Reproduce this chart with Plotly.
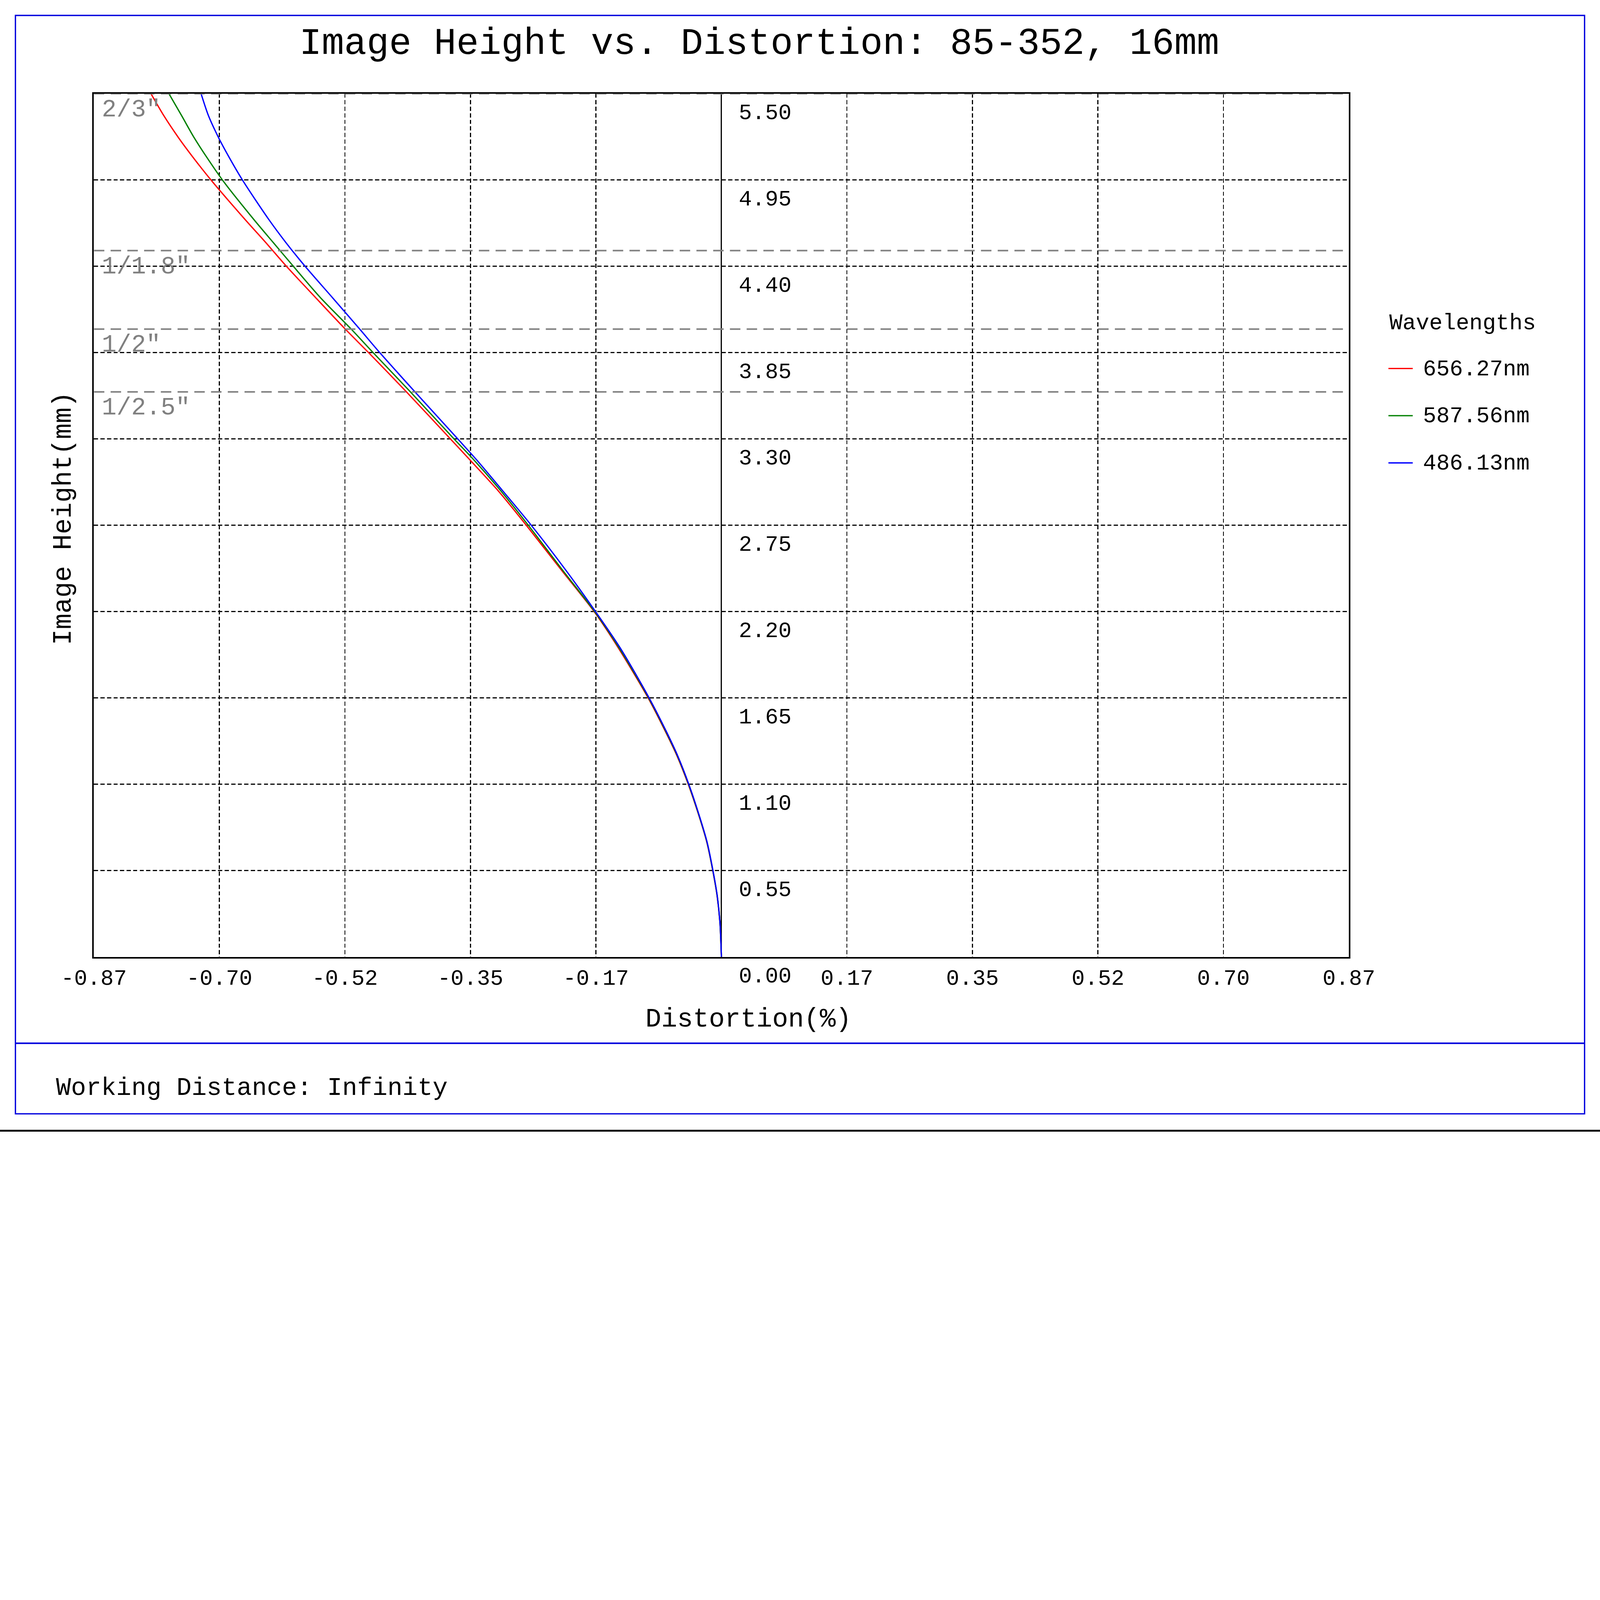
import plotly.graph_objects as go

# image height (mm) shared by the three wavelength curves
heights = [0.00, 0.22, 0.39, 0.55, 0.73, 0.89, 1.10, 1.28, 1.43, 1.65, 1.97, 2.20, 2.46, 2.75,
           2.97, 3.17, 3.30, 3.60, 3.85, 4.00, 4.20, 4.40, 4.55, 4.70, 4.95, 5.10, 5.22, 5.36, 5.50]

# distortion (%)
dist_656 = [0.0, -0.0021, -0.0060, -0.0120, -0.0202, -0.0305, -0.0460, -0.0615, -0.0770, -0.1016,
            -0.1431, -0.1764, -0.2210, -0.2705, -0.3095, -0.3494, -0.3757, -0.4367, -0.4892, -0.5215,
            -0.5625, -0.6031, -0.6315, -0.6608, -0.7077, -0.7335, -0.7528, -0.7731, -0.7909]
dist_588 = [0.0, -0.0021, -0.0059, -0.0119, -0.0200, -0.0303, -0.0456, -0.0610, -0.0764, -0.1009,
            -0.1420, -0.1757, -0.2195, -0.2677, -0.3060, -0.3439, -0.3707, -0.4312, -0.4829, -0.5133,
            -0.5559, -0.5935, -0.6211, -0.6486, -0.6918, -0.7143, -0.7311, -0.7484, -0.7660]
dist_486 = [0.0, -0.0020, -0.0058, -0.0117, -0.0198, -0.0300, -0.0452, -0.0605, -0.0757, -0.1002,
            -0.1405, -0.1745, -0.2151, -0.2636, -0.3033, -0.3400, -0.3655, -0.4249, -0.4737, -0.5015,
            -0.5392, -0.5772, -0.6036, -0.6278, -0.6641, -0.6832, -0.6972, -0.7112, -0.7214]

wavelengths = ["656.27nm", "587.56nm", "486.13nm"]
colors = ["#ff0000", "#008000", "#0000ff"]

xtick_vals = [-0.870, -0.696, -0.522, -0.348, -0.174, 0.0, 0.174, 0.348, 0.522, 0.696, 0.870]
xtick_text = ["-0.87", "-0.70", "-0.52", "-0.35", "-0.17", "", "0.17", "0.35", "0.52", "0.70", "0.87"]

ytick_vals = [0.00, 0.55, 1.10, 1.65, 2.20, 2.75, 3.30, 3.85, 4.40, 4.95, 5.50]
ytick_text = ["0.00", "0.55", "1.10", "1.65", "2.20", "2.75", "3.30", "3.85", "4.40", "4.95", "5.50"]

sensor_names = ['2/3"', '1/1.8"', '1/2"', '1/2.5"']
sensor_heights = [5.5, 4.5, 4.0, 3.6]

FONT = "Liberation Mono"
W, H = 6118, 4327
L, R, T, B = 359, 5158, 358, 3659


def px(x):
    return (x - L) / (R - L)


def py(y):
    return (B - y) / (B - T)


fig = go.Figure()

for name, dist, col in zip(wavelengths, [dist_656, dist_588, dist_486], colors):
    fig.add_trace(go.Scatter(x=dist, y=heights, mode="lines", name=name,
                             line=dict(color=col, width=5, shape="spline", smoothing=0.8),
                             showlegend=False))

axis_common = dict(showgrid=True, gridcolor="black", gridwidth=4, griddash="16px,9px",
                   showline=True, linecolor="black", linewidth=6, mirror=True, ticks="")

fig.update_xaxes(range=[-0.87, 0.87], tickvals=xtick_vals, ticktext=xtick_text,
                 zeroline=True, zerolinecolor="black", zerolinewidth=5,
                 ticklabelstandoff=0, tickfont=dict(family=FONT, size=84, color="black"),
                 **axis_common)
fig.update_yaxes(range=[0, 5.5], tickvals=ytick_vals, showticklabels=False,
                 zeroline=False, **axis_common)

shapes = []
annotations = []

# sensor format lines
for name, h in zip(sensor_names, sensor_heights):
    shapes.append(dict(type="line", xref="x", yref="y", x0=-0.87, x1=0.87, y0=h, y1=h,
                       line=dict(color="#808080", width=6, dash="40px,24px"), layer="above"))
    annotations.append(dict(x=-0.87, y=h, xref="x", yref="y", text=name, showarrow=False,
                            xanchor="left", yanchor="middle", xshift=28, yshift=-62,
                            font=dict(family=FONT, size=94, color="#808080")))

# y tick labels along the zero line
for v, t in zip(ytick_vals, ytick_text):
    annotations.append(dict(x=0, y=v, xref="x", yref="y", text=t, showarrow=False,
                            xanchor="left", yanchor="middle", xshift=64, yshift=-75,
                            font=dict(family=FONT, size=84, color="black")))

# outer frame and footer separator
blue = "#0000dd"
shapes.append(dict(type="rect", xref="paper", yref="paper", x0=px(59), x1=px(6059),
                   y0=py(59), y1=py(4259), line=dict(color=blue, width=5)))
shapes.append(dict(type="line", xref="paper", yref="paper", x0=px(59), x1=px(6059),
                   y0=py(3989), y1=py(3989), line=dict(color=blue, width=6)))
shapes.append(dict(type="rect", xref="paper", yref="paper", x0=px(0), x1=px(W),
                   y0=py(4320), y1=py(H), fillcolor="black", line=dict(width=0)))

# legend drawn by hand
annotations.append(dict(x=px(5310), y=py(1236), xref="paper", yref="paper", text="Wavelengths",
                        showarrow=False, xanchor="left", yanchor="middle",
                        font=dict(family=FONT, size=85, color="black")))
for i, (name, col) in enumerate(zip(wavelengths, colors)):
    yy = 1409 + i * 180.5
    shapes.append(dict(type="line", xref="paper", yref="paper", x0=px(5309), x1=px(5402),
                       y0=py(yy), y1=py(yy), line=dict(color=col, width=5)))
    annotations.append(dict(x=px(5439), y=py(yy + 3), xref="paper", yref="paper", text=name,
                            showarrow=False, xanchor="left", yanchor="middle",
                            font=dict(family=FONT, size=85, color="black")))

# titles
annotations.append(dict(x=px(2903), y=py(168), xref="paper", yref="paper",
                        text="Image Height vs. Distortion: 85-352, 16mm", showarrow=False,
                        xanchor="center", yanchor="middle",
                        font=dict(family=FONT, size=143, color="black")))
annotations.append(dict(x=px(2862), y=py(3898), xref="paper", yref="paper",
                        text="Distortion(%)", showarrow=False, xanchor="center", yanchor="middle",
                        font=dict(family=FONT, size=101, color="black")))
annotations.append(dict(x=px(244), y=py(1982), xref="paper", yref="paper",
                        text="Image Height(mm)", showarrow=False, textangle=-90,
                        xanchor="center", yanchor="middle",
                        font=dict(family=FONT, size=101, color="black")))
annotations.append(dict(x=px(212), y=py(4160), xref="paper", yref="paper",
                        text="Working Distance: Infinity", showarrow=False,
                        xanchor="left", yanchor="middle",
                        font=dict(family=FONT, size=96, color="black")))

fig.update_layout(width=W, height=H, margin=dict(l=L, r=W - R, t=T, b=H - B),
                  paper_bgcolor="white", plot_bgcolor="white", showlegend=False,
                  shapes=shapes, annotations=annotations)

# fit the fixed-size figure into the browser window (no body margin, no overflow)
fit_js = """
document.documentElement.style.margin = '0';
document.body.style.margin = '0';
document.body.style.overflow = 'hidden';
var gd = document.getElementById('{plot_id}');
var s = Math.min(window.innerWidth / %d, window.innerHeight / %d);
if (s < 1) { gd.style.zoom = s; }
""" % (W, H)

fig.write_html("out.html", post_script=fit_js, config={"displayModeBar": False})
